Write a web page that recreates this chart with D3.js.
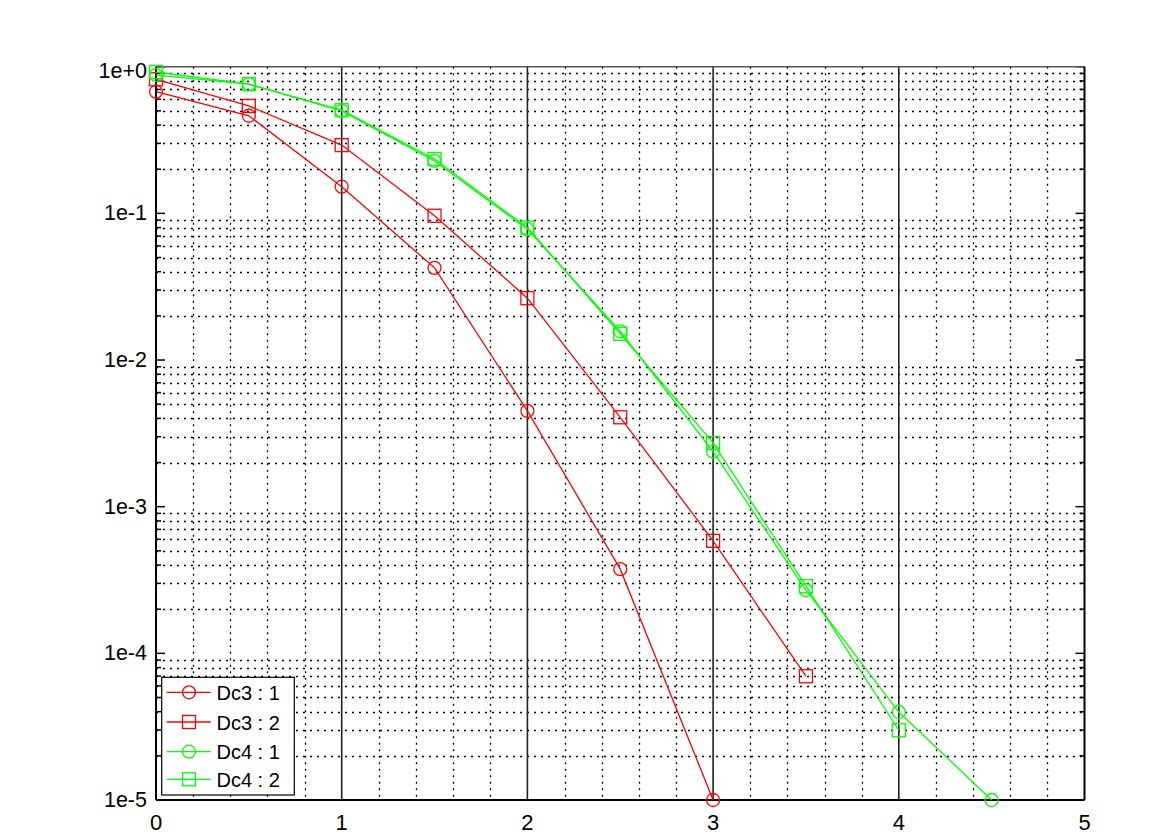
<!DOCTYPE html>
<html>
<head>
<meta charset="utf-8">
<script src="https://d3js.org/d3.v7.min.js"></script>
<style>
  body { margin: 0; background: #fff; }
  svg { display: block; font-family: "Liberation Sans", Arial, sans-serif; }
</style>
</head>
<body>
<svg id="chart" width="1175" height="835"></svg>
<script>
const xValues = [0, 0.5, 1, 1.5, 2, 2.5, 3, 3.5, 4, 4.5];
const seriesNames = ["Dc3 : 1", "Dc3 : 2", "Dc4 : 1", "Dc4 : 2"];
const dc3_1 = [0.675, 0.463, 0.152, 0.0425, 0.0045, 3.75e-4, 1e-5];
const dc3_2 = [0.82, 0.54, 0.292, 0.0963, 0.0264, 0.00407, 5.85e-4, 6.98e-5];
const dc4_1 = [0.877, 0.76, 0.499, 0.228, 0.078, 0.0157, 0.00237, 2.7e-4, 3.98e-5, 1e-5];
const dc4_2 = [0.92, 0.76, 0.505, 0.235, 0.08, 0.0151, 0.00272, 2.87e-4, 2.99e-5];
const seriesColors = ["#ff0000", "#ff0000", "#00ff00", "#00ff00"];
const seriesMarkers = ["circle", "square", "circle", "square"];
const xTickLabels = ["0", "1", "2", "3", "4", "5"];
const yTickLabels = ["1e+0", "1e-1", "1e-2", "1e-3", "1e-4", "1e-5"];

const allSeries = [dc3_1, dc3_2, dc4_1, dc4_2];

const svg = d3.select("#chart");
const L = 156, R = 1084.5, T = 66.7, B = 800;

const x = d3.scaleLinear().domain([0, 5]).range([L, R]);
const y = d3.scaleLog().domain([1e-5, 1]).range([B, T]);
const px = v => Math.round(v) + 0.5;

const g = svg.append("g");

// minor vertical dotted grid at 0.2 steps (not integers)
const xMinor = d3.range(0, 5.0001, 0.2).filter(v => Math.abs(v - Math.round(v)) > 1e-6);
g.selectAll(".vminor").data(xMinor).enter().append("line")
  .attr("x1", d => px(x(d))).attr("x2", d => px(x(d)))
  .attr("y1", T).attr("y2", B)
  .attr("stroke", "#000").attr("stroke-width", 1.3)
  .attr("stroke-dasharray", "2,4.5");

// minor horizontal dotted grid at 2..9 x 10^k
const yMinor = [];
for (let e = -5; e < 0; e++) for (let m = 2; m <= 9; m++) yMinor.push(m * Math.pow(10, e));
g.selectAll(".hminor").data(yMinor).enter().append("line")
  .attr("x1", L).attr("x2", R)
  .attr("y1", d => px(y(d))).attr("y2", d => px(y(d)))
  .attr("stroke", "#000").attr("stroke-width", 1.3)
  .attr("stroke-dasharray", "2,5");

// major vertical solid lines at integers
g.selectAll(".vmajor").data([1, 2, 3, 4]).enter().append("line")
  .attr("x1", d => x(d)).attr("x2", d => x(d))
  .attr("y1", T).attr("y2", B)
  .attr("stroke", "#222").attr("stroke-width", 1.6);

// tick marks on left and right for y
const yMajor = [1, 1e-1, 1e-2, 1e-3, 1e-4, 1e-5];
yMajor.forEach(v => {
  g.append("line").attr("x1", L).attr("x2", L + 9).attr("y1", y(v)).attr("y2", y(v)).attr("stroke", "#000").attr("stroke-width", 1.5);
  g.append("line").attr("x1", R).attr("x2", R - 9).attr("y1", y(v)).attr("y2", y(v)).attr("stroke", "#000").attr("stroke-width", 1.5);
});
yMinor.forEach(v => {
  g.append("line").attr("x1", L).attr("x2", L + 5).attr("y1", y(v)).attr("y2", y(v)).attr("stroke", "#000").attr("stroke-width", 1.5);
  g.append("line").attr("x1", R).attr("x2", R - 5).attr("y1", y(v)).attr("y2", y(v)).attr("stroke", "#000").attr("stroke-width", 1.5);
});

// frame
g.append("line").attr("x1", L).attr("x2", R).attr("y1", T).attr("y2", T).attr("stroke", "#555").attr("stroke-width", 1.5);
g.append("line").attr("x1", R).attr("x2", R).attr("y1", T).attr("y2", B).attr("stroke", "#000").attr("stroke-width", 2);
g.append("line").attr("x1", L).attr("x2", R).attr("y1", B).attr("y2", B).attr("stroke", "#000").attr("stroke-width", 2);
g.append("line").attr("x1", L).attr("x2", L).attr("y1", T).attr("y2", B).attr("stroke", "#000").attr("stroke-width", 2);

// y tick labels
g.selectAll(".ylab").data(yMajor).enter().append("text")
  .attr("x", L - 9).attr("y", (d, i) => y(d) + (i === 0 ? 11 : 7))
  .attr("text-anchor", "end").attr("font-size", 21.5)
  .text((d, i) => yTickLabels[i]);

// x tick labels
g.selectAll(".xlab").data([0, 1, 2, 3, 4, 5]).enter().append("text")
  .attr("text-anchor", "middle").attr("font-size", 22)
  .attr("x", d => x(d)).attr("y", 830)
  .text((d, i) => xTickLabels[i]);

// series
const line = d3.line().x(d => x(d[0])).y(d => y(d[1]));
function drawMarker(sel, type, color, cx, cy) {
  if (type === "circle") {
    sel.append("circle").attr("cx", cx).attr("cy", cy).attr("r", 6.5)
      .attr("fill", "none").attr("stroke", color).attr("stroke-width", 1.3);
  } else {
    sel.append("rect").attr("x", cx - 6.5).attr("y", cy - 6.5).attr("width", 13).attr("height", 13)
      .attr("fill", "none").attr("stroke", color).attr("stroke-width", 1.3);
  }
}
allSeries.forEach((vals, si) => {
  const pts = vals.map((v, i) => [xValues[i], v]);
  g.append("path").datum(pts).attr("d", line)
    .attr("fill", "none").attr("stroke", seriesColors[si]).attr("stroke-width", 1.3);
  pts.forEach(p => drawMarker(g, seriesMarkers[si], seriesColors[si], x(p[0]), y(p[1])));
});

// legend
const lg = svg.append("g");
lg.append("rect").attr("x", 161.7).attr("y", 677.3).attr("width", 132.6).attr("height", 117.7)
  .attr("fill", "#fff").attr("stroke", "#000").attr("stroke-width", 1.2);
const rowY = [692.3, 722, 751.7, 779.3];
seriesNames.forEach((name, i) => {
  lg.append("line").attr("x1", 166.7).attr("x2", 210.7).attr("y1", rowY[i]).attr("y2", rowY[i])
    .attr("stroke", seriesColors[i]).attr("stroke-width", 1.3);
  drawMarker(lg, seriesMarkers[i], seriesColors[i], 189, rowY[i]);
  lg.append("text").attr("x", 216.5).attr("y", rowY[i] + 7.5).attr("font-size", 20).text(name);
});
</script>
</body>
</html>
